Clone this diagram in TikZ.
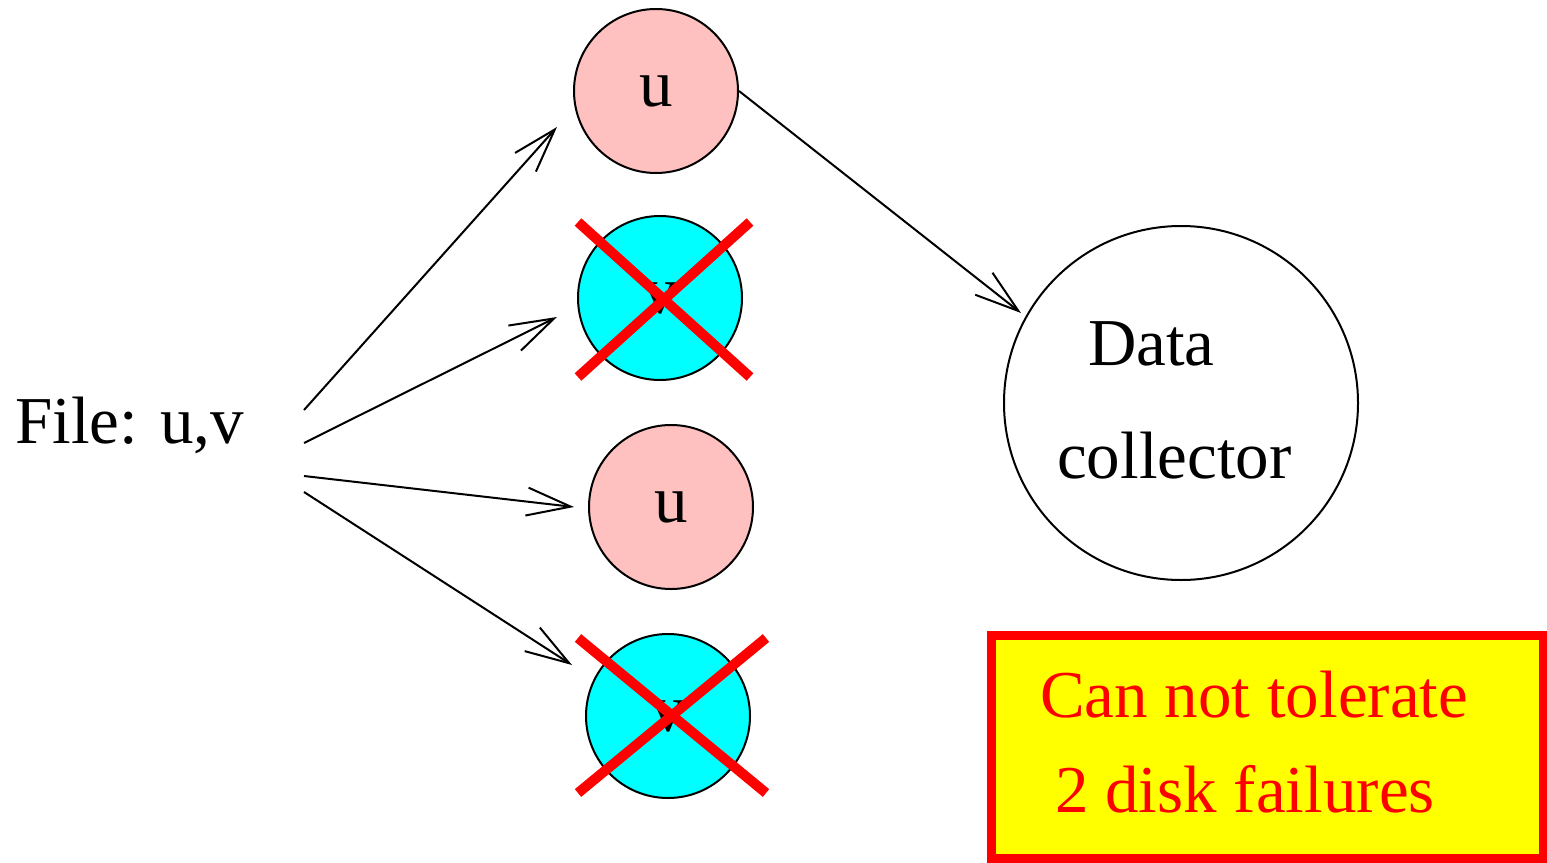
\documentclass[tikz,border=0pt]{standalone}
\usepackage{fontspec}
\setmainfont{Liberation Serif}
\usetikzlibrary{arrows.meta}
\definecolor{diskpink}{RGB}{255,192,192}
\definecolor{diskcyan}{RGB}{0,255,255}
\definecolor{notefill}{RGB}{255,255,0}
\definecolor{alertred}{RGB}{255,0,0}
\tikzset{
  big/.style={font=\fontsize{67}{80}\selectfont},
  disk/.style={circle, draw=black, line width=2pt, minimum size=164pt, inner sep=0pt, big},
  udisk/.style={disk, fill=diskpink},
  vdisk/.style={disk, fill=diskcyan},
  collector/.style={circle, draw=black, line width=2pt, minimum size=354pt, inner sep=0pt},
  link/.style={line width=2pt, -{Straight Barb[length=44pt,width=28pt,line width=2pt]}},
  failmark/.style={draw=alertred, line width=10pt},
  notebox/.style={draw=alertred, fill=notefill, line width=9pt},
  notetext/.style={big, text=alertred, anchor=base west, inner sep=0pt},
  plaintext/.style={big, anchor=base west, inner sep=0pt}
}
\begin{document}
\begin{tikzpicture}[x=1pt, y=-1pt]
\useasboundingbox (0,0) rectangle (1547,862);

% source file
\node[plaintext] (file) at (15,443) {File: u,v};

% storage disks
\node[udisk] (d1) at (656,91) {u};
\node[vdisk] (d2) at (660,298) {v};
\node[udisk] (d3) at (671,507) {u};
\node[vdisk] (d4) at (668,716) {v};

% data collector
\node[collector] (dc) at (1181,403) {};
\node[plaintext] (dcA) at (1088,365) {Data};
\node[plaintext] (dcB) at (1057,478) {collector};

% connector end points
\coordinate (s1) at (304,410);
\coordinate (s2) at (304,443);
\coordinate (s3) at (304,476);
\coordinate (s4) at (304,492);
\coordinate (t1) at (557,127);
\coordinate (t2) at (557,317);
\coordinate (t3) at (574,507);
\coordinate (t4) at (572,665);
\coordinate (t5) at (1021,313);

\draw[link] (s1) -- (t1);
\draw[link] (s2) -- (t2);
\draw[link] (s3) -- (t3);
\draw[link] (s4) -- (t4);
\draw[link] (d1.east) -- (t5);

% failed disks
\draw[failmark] (578,222) -- (750,377);
\draw[failmark] (750,222) -- (578,377);
\draw[failmark] (578,638) -- (766,793);
\draw[failmark] (766,638) -- (578,793);

% note
\draw[notebox] (991,635) rectangle (1543,858);
\node[notetext] (n1) at (1040,717) {Can not tolerate};
\node[notetext] (n2) at (1055,812) {2 disk failures};
\end{tikzpicture}
\end{document}
